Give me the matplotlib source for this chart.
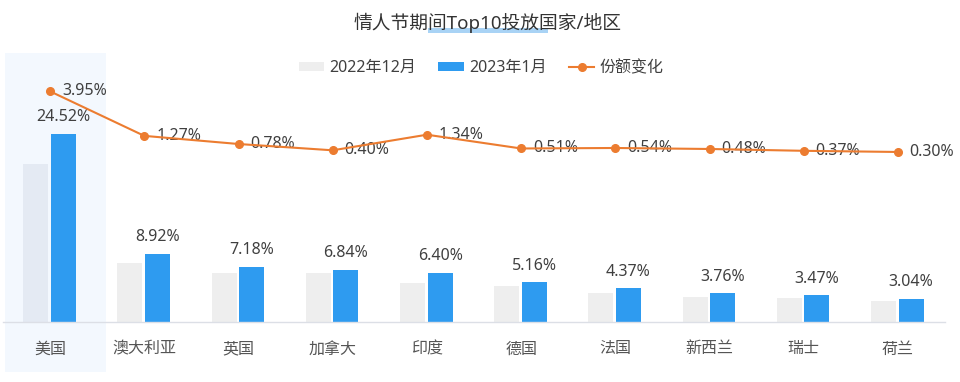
import matplotlib
matplotlib.use("Agg")
import matplotlib.pyplot as plt
import matplotlib.transforms as mtransforms
from matplotlib.patches import Rectangle, Patch
import numpy as np

plt.rcParams['font.family'] = ['Noto Sans', 'Noto Sans CJK SC', 'DejaVu Sans']

# dados
paises = ["美国", "澳大利亚", "英国", "加拿大", "印度", "德国", "法国", "新西兰", "瑞士", "荷兰"]
dez_2022 = [20.57, 7.65, 6.40, 6.44, 5.06, 4.65, 3.83, 3.28, 3.10, 2.74]
jan_2023 = [24.52, 8.92, 7.18, 6.84, 6.40, 5.16, 4.37, 3.76, 3.47, 3.04]
var_share = [3.95, 1.27, 0.78, 0.40, 1.34, 0.51, 0.54, 0.48, 0.37, 0.30]

titulo = "情人节期间Top10投放国家/地区"
nomes_serie = ["2022年12月", "2023年1月", "份额变化"]

cor_cinza = "#eeeeee"
cor_cinza_us = "#e4eaf3"
cor_azul = "#2e9bf0"
cor_laranja = "#ec7c30"
cor_texto = "#404040"

W, H = 960, 382
fig = plt.figure(figsize=(W/100, H/100), dpi=100)
ax = fig.add_axes([3/W, 1 - 322/H, 942/W, 267/H])

x = np.arange(len(paises))
larg = 0.265

# faixa de destaque do primeiro pais
trans = mtransforms.blended_transform_factory(ax.transData, fig.transFigure)
ax.add_patch(Rectangle((-0.479, 1 - 372/H), 1.072, (372 - 53)/H,
                       transform=trans, facecolor="#f3f8fe",
                       edgecolor="none", zorder=0.5, clip_on=False))

cores_cinza = [cor_cinza_us] + [cor_cinza] * (len(paises) - 1)
ax.bar(x - 0.153, dez_2022, larg, color=cores_cinza, zorder=2)
ax.bar(x + 0.14, jan_2023, larg, color=cor_azul, zorder=2)

for xi, v in zip(x, jan_2023):
    ax.annotate(f"{v:.2f}%", (xi + 0.14, v), xytext=(0, 9), textcoords="offset points",
                ha="center", va="baseline", fontsize=11.5, color=cor_texto, zorder=5)

ax.set_xlim(-0.5, len(paises) - 0.5)
ax.set_ylim(0, 34.8)
ax.set_xticks(x)
ax.set_xticklabels(paises, fontsize=11.5, color="#555555")
ax.tick_params(axis="x", length=0, pad=14)
ax.set_yticks([])
for s in ["top", "right", "left"]:
    ax.spines[s].set_visible(False)
ax.spines["bottom"].set_color("#dcdfe6")
ax.spines["bottom"].set_linewidth(1)
ax.spines["bottom"].set_zorder(3)

ax2 = ax.twinx()
ax2.set_ylim(-9.94, 6.14)
l1, = ax2.plot(x, var_share, color=cor_laranja, lw=1.5, marker="o", ms=5.5, zorder=4,
               label=nomes_serie[2])
for xi, v in zip(x, var_share):
    ax2.annotate(f"{v:.2f}%", (xi, v), xytext=(8.5, 0), textcoords="offset points",
                 ha="left", va="center", fontsize=11.5, color=cor_texto)
ax2.set_yticks([])
for s in ["top", "right", "left", "bottom"]:
    ax2.spines[s].set_visible(False)

# legenda
handles = [Patch(facecolor=cor_cinza), Patch(facecolor=cor_azul), l1]
fig.legend(handles, nomes_serie, loc="center", bbox_to_anchor=(481/W, 1 - 68/H),
           ncol=3, frameon=False, fontsize=11.5, handlelength=1.6, handleheight=0.55,
           handletextpad=0.3, columnspacing=1.4, labelcolor=cor_texto)

# titulo com marca de selecao
fig.patches.append(Rectangle((428/W, 1 - 33/H), 120/W, 5/H, transform=fig.transFigure,
                             facecolor="#a9d3f5", edgecolor="none", zorder=0))
fig.text(487/W, 1 - 23/H, titulo, ha="center", va="center", fontsize=13.5, color="#333333")

fig.savefig("out.png", dpi=100)
